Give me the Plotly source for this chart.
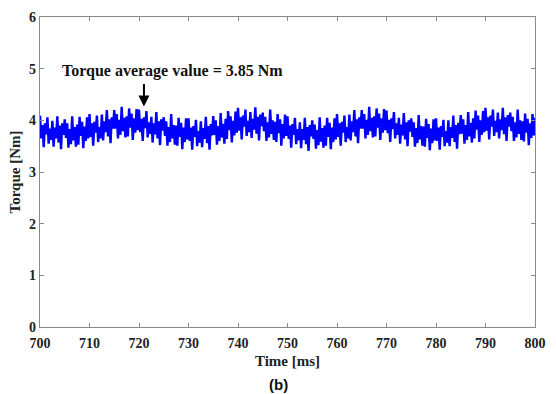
import numpy as np
import plotly.graph_objects as go

# Torque samples, 0.25 ms apart, 700..800 ms
torque = [
    4.09, 3.65, 3.91, 3.48, 3.94, 3.73, 4.06, 3.55, 3.84, 3.62,
    3.99, 3.49, 3.86, 3.65, 4.08, 3.57, 3.90, 3.44, 3.94, 3.72,
    4.02, 3.66, 3.94, 3.47, 3.83, 3.54, 4.08, 3.61, 3.87, 3.49,
    3.92, 3.53, 4.07, 3.70, 3.97, 3.46, 3.88, 3.60, 4.06, 3.65,
    4.12, 3.68, 3.94, 3.51, 3.97, 3.76, 4.09, 3.58, 3.87, 3.65,
    4.11, 3.61, 3.98, 3.77, 4.20, 3.69, 4.02, 3.56, 4.06, 3.84,
    4.20, 3.84, 4.12, 3.65, 4.01, 3.72, 4.26, 3.79, 4.05, 3.67,
    4.08, 3.69, 4.23, 3.86, 4.13, 3.62, 4.04, 3.76, 4.22, 3.81,
    4.21, 3.77, 4.03, 3.60, 4.06, 3.85, 4.18, 3.67, 3.96, 3.74,
    4.07, 3.57, 3.94, 3.73, 4.16, 3.65, 3.98, 3.52, 4.02, 3.80,
    4.06, 3.70, 3.98, 3.51, 3.87, 3.58, 4.12, 3.65, 3.91, 3.53,
    3.90, 3.51, 4.05, 3.68, 3.95, 3.44, 3.86, 3.58, 4.04, 3.63,
    4.04, 3.60, 3.86, 3.43, 3.89, 3.68, 4.01, 3.50, 3.79, 3.57,
    3.98, 3.48, 3.85, 3.64, 4.07, 3.56, 3.89, 3.43, 3.93, 3.71,
    4.08, 3.72, 4.00, 3.53, 3.89, 3.60, 4.14, 3.67, 3.93, 3.55,
    4.03, 3.64, 4.18, 3.81, 4.08, 3.57, 3.99, 3.71, 4.17, 3.76,
    4.24, 3.80, 4.06, 3.63, 4.09, 3.88, 4.21, 3.70, 3.99, 3.77,
    4.16, 3.66, 4.03, 3.82, 4.25, 3.74, 4.07, 3.61, 4.11, 3.89,
    4.15, 3.79, 4.07, 3.60, 3.96, 3.67, 4.21, 3.74, 4.00, 3.62,
    3.97, 3.58, 4.12, 3.75, 4.02, 3.51, 3.93, 3.65, 4.11, 3.70,
    4.08, 3.64, 3.90, 3.47, 3.93, 3.72, 4.05, 3.54, 3.83, 3.61,
    3.96, 3.46, 3.83, 3.62, 4.05, 3.54, 3.87, 3.41, 3.91, 3.69,
    4.00, 3.64, 3.92, 3.45, 3.81, 3.52, 4.06, 3.59, 3.85, 3.47,
    3.90, 3.51, 4.05, 3.68, 3.95, 3.44, 3.86, 3.58, 4.04, 3.63,
    4.12, 3.68, 3.94, 3.51, 3.97, 3.76, 4.09, 3.58, 3.87, 3.65,
    4.11, 3.61, 3.98, 3.77, 4.20, 3.69, 4.02, 3.56, 4.06, 3.84,
    4.20, 3.84, 4.12, 3.65, 4.01, 3.72, 4.26, 3.79, 4.05, 3.67,
    4.08, 3.69, 4.23, 3.86, 4.13, 3.62, 4.04, 3.76, 4.22, 3.81,
    4.19, 3.75, 4.01, 3.58, 4.04, 3.83, 4.16, 3.65, 3.94, 3.72,
    4.05, 3.55, 3.92, 3.71, 4.14, 3.63, 3.96, 3.50, 4.00, 3.78,
    4.04, 3.68, 3.96, 3.49, 3.85, 3.56, 4.10, 3.63, 3.89, 3.51,
    3.88, 3.49, 4.03, 3.66, 3.93, 3.42, 3.84, 3.56, 4.02, 3.61,
    4.04, 3.60, 3.86, 3.43, 3.89, 3.68, 4.01, 3.50, 3.79, 3.57,
    4.00, 3.50, 3.87, 3.66, 4.09, 3.58, 3.91, 3.45, 3.95, 3.73,
    4.10, 3.74, 4.02, 3.55, 3.91, 3.62, 4.16, 3.69, 3.95, 3.57,
    4.04, 3.65, 4.19, 3.82, 4.09, 3.58, 4.00, 3.72, 4.18, 3.77,
    4.24, 3.80, 4.06, 3.63, 4.09, 3.88, 4.21, 3.70, 3.99, 3.77,
    4.15, 3.65, 4.02, 3.81, 4.24, 3.73, 4.06, 3.60, 4.10, 3.88,
    4.15, 3.79, 4.07, 3.60, 3.96, 3.67, 4.21, 3.74, 4.00, 3.62,
    3.98, 3.59, 4.13, 3.76, 4.03, 3.52, 3.94, 3.66, 4.12, 3.71,
    4.05,
]
t_start, t_step = 700.0, 0.25
time_ms = [t_start + t_step * i for i in range(len(torque))]

x_ticks = [700, 710, 720, 730, 740, 750, 760, 770, 780, 790, 800]
y_ticks = [0, 1, 2, 3, 4, 5, 6]

avg_label = "Torque average value = 3.85 Nm"
arrow_time = 721
arrow_from, arrow_to = 4.73, 4.27
label_time, label_val = 726.7, 4.96

serif = "Liberation Serif"
txt = "#222222"

fig = go.Figure()
fig.add_trace(go.Scatter(x=time_ms, y=torque, mode="lines",
                         line=dict(color="#0000ff", width=2.4),
                         showlegend=False, hoverinfo="skip"))

axis_common = dict(showline=True, linecolor="#8a8a8a", linewidth=1.2, mirror="ticks",
                   ticks="inside", ticklen=4, tickcolor="#8a8a8a", tickwidth=1,
                   showgrid=False, zeroline=False,
                   tickfont=dict(family=serif, size=14, color=txt, weight="bold"))

fig.update_xaxes(range=[700, 800], tickvals=x_ticks, ticktext=[str(v) for v in x_ticks],
                 ticklabelstandoff=3,
                 title=dict(text="Time [ms]", font=dict(family=serif, size=15, color=txt, weight="bold"),
                            standoff=5),
                 **axis_common)
fig.update_yaxes(range=[0, 6], tickvals=y_ticks, ticktext=[str(v) for v in y_ticks],
                 title=dict(text="Torque [Nm]", font=dict(family=serif, size=15, color=txt, weight="bold"),
                            standoff=4),
                 **axis_common)

fig.add_annotation(x=label_time, y=label_val, xref="x", yref="y", text=avg_label,
                   showarrow=False, font=dict(family=serif, size=16, color="#111111", weight="bold"))
fig.add_annotation(x=arrow_time, y=arrow_to, ax=arrow_time, ay=arrow_from, xref="x", yref="y",
                   axref="x", ayref="y", text="", showarrow=True, arrowhead=2, arrowsize=1.1,
                   arrowwidth=2, arrowcolor="#000000")
fig.add_annotation(x=0.481, y=-0.152, xref="paper", yref="paper", yanchor="top", text="(b)",
                   showarrow=False, font=dict(family="Liberation Sans", size=15, color="#111111", weight="bold"))

fig.update_layout(width=556, height=394, margin=dict(l=40, r=20, t=10, b=67),
                  paper_bgcolor="white", plot_bgcolor="white")

fig.write_html("out.html")
